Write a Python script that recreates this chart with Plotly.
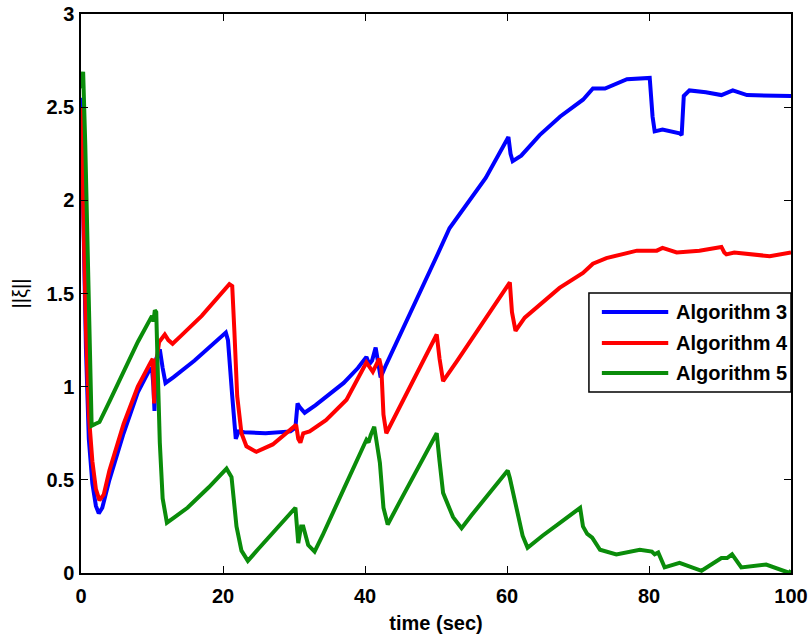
import plotly.graph_objects as go

# ---------------- data ----------------
names = ["Algorithm 3", "Algorithm 4", "Algorithm 5"]
colors = ["#0000ff", "#ff0000", "#0a8c0a"]

t_alg3 = [0, 0.3, 0.7, 1.1, 1.6, 2.1, 2.5, 3.0, 4.0, 6.0, 8.0, 9.5, 10.0, 10.2, 10.35, 10.6, 11.1, 11.5,
          11.9, 13.0, 16.0, 20.4, 20.7, 21.3, 21.8, 22.2, 23.0, 26.0, 29.5, 30.2, 30.5, 30.8, 31.5, 33.0,
          35.0, 37.0, 39.0, 40.2, 40.6, 41.0, 41.5, 41.8, 42.2, 43.0, 45.0, 47.5, 50.1, 51.9, 54.8, 57.0,
          60.2, 60.5, 60.8, 62.0, 64.6, 67.5, 70.7, 72.1, 73.8, 76.9, 80.1, 80.5, 80.8, 81.9, 84.3, 84.6,
          84.9, 85.7, 88.0, 90.2, 91.8, 93.8, 100]
y_alg3 = [2.55, 1.9, 1.2, 0.72, 0.48, 0.36, 0.32, 0.35, 0.5, 0.75, 0.97, 1.08, 1.1, 1.0, 0.87, 1.15, 1.2, 1.1,
          1.02, 1.05, 1.14, 1.29, 1.25, 0.95, 0.72, 0.76, 0.755, 0.75, 0.76, 0.78, 0.91, 0.89, 0.86, 0.9,
          0.96, 1.02, 1.1, 1.16, 1.12, 1.14, 1.21, 1.15, 1.05, 1.12, 1.28, 1.49, 1.7, 1.85, 2.0, 2.12,
          2.34, 2.25, 2.21, 2.24, 2.35, 2.45, 2.54, 2.60, 2.60, 2.65, 2.657, 2.45, 2.37, 2.38, 2.36, 2.35,
          2.56, 2.59, 2.58, 2.565, 2.59, 2.565, 2.56]

t_alg4 = [0, 0.3, 0.7, 1.1, 1.6, 2.1, 2.6, 3.2, 4.0, 6.0, 8.0, 9.8, 10.1, 10.3, 10.5, 11.0, 11.8, 12.3, 12.9,
          14.0, 17.0, 20.9, 21.3, 21.6, 22.0, 22.6, 23.3, 24.7, 27.0, 30.3, 30.6, 30.9, 31.3, 32.2, 34.5,
          37.4, 40.2, 41.1, 42.0, 42.3, 42.6, 43.0, 44.5, 47.0, 50.1, 50.5, 51.0, 53.0, 56.0, 60.4, 60.7,
          61.2, 62.5, 64.6, 67.4, 70.7, 72.1, 74.0, 78.3, 81.1, 81.9, 83.9, 87.1, 90.2, 90.6, 90.9, 92.0,
          97.0, 100]
y_alg4 = [2.5, 1.95, 1.3, 0.85, 0.6, 0.45, 0.39, 0.42, 0.55, 0.8, 1.0, 1.13, 1.15, 0.91, 1.1, 1.24, 1.28, 1.25, 1.23,
          1.27, 1.38, 1.55, 1.54, 1.3, 0.95, 0.75, 0.68, 0.65, 0.69, 0.795, 0.72, 0.70, 0.75, 0.76, 0.82,
          0.93, 1.13, 1.08, 1.15, 1.1, 0.85, 0.75, 0.86, 1.05, 1.28, 1.15, 1.03, 1.14, 1.31, 1.56, 1.40,
          1.30, 1.37, 1.44, 1.53, 1.61, 1.66, 1.69, 1.73, 1.73, 1.745, 1.72, 1.73, 1.75, 1.72, 1.71, 1.72,
          1.70, 1.72]

t_alg5 = [0, 0.3, 0.6, 0.9, 1.2, 1.5, 2.0, 2.6, 4.0, 6.0, 8.0, 10.0, 10.2, 10.4, 10.6, 10.8, 11.1, 11.5, 12.1,
          13.2, 15.0, 18.0, 20.5, 21.2, 21.9, 22.6, 23.5, 25.0, 28.0, 30.2, 30.6, 31.0, 31.3, 32.0, 32.9,
          34.0, 37.0, 40.2, 40.5, 40.8, 41.3, 42.1, 42.6, 43.2, 45.0, 47.5, 50.1, 50.5, 51.0, 52.4, 53.6,
          55.0, 57.5, 60.1, 60.4, 61.5, 62.2, 62.9, 65.0, 67.5, 70.3, 70.7, 71.3, 72.0, 73.1, 75.4, 78.7,
          80.4, 80.8, 81.3, 82.2, 84.3, 87.4, 90.2, 91.0, 91.7, 93.0, 96.5, 99.8, 100]
y_alg5 = [2.6, 2.69, 2.3, 1.8, 1.2, 0.79, 0.80, 0.81, 0.92, 1.08, 1.24, 1.38, 1.35, 1.41, 1.40, 1.1, 0.7, 0.4, 0.27,
          0.30, 0.35, 0.46, 0.56, 0.515, 0.25, 0.12, 0.065, 0.13, 0.26, 0.35, 0.16, 0.25, 0.25, 0.15, 0.115,
          0.2, 0.45, 0.715, 0.70, 0.74, 0.785, 0.59, 0.35, 0.26, 0.39, 0.565, 0.75, 0.6, 0.43, 0.30, 0.24,
          0.31, 0.43, 0.55, 0.51, 0.32, 0.2, 0.135, 0.2, 0.27, 0.35, 0.25, 0.21, 0.19, 0.125, 0.10, 0.125,
          0.115, 0.10, 0.11, 0.03, 0.055, 0.012, 0.08, 0.08, 0.10, 0.03, 0.045, 0.0, 0.015]

x_ticks = [0, 20, 40, 60, 80, 100]
y_ticks = [0, 0.5, 1, 1.5, 2, 2.5, 3]
y_tick_text = ["0", "0.5", "1", "1.5", "2", "2.5", "3"]

series = [(t_alg3, y_alg3), (t_alg4, y_alg4), (t_alg5, y_alg5)]

FONT = dict(family="Liberation Sans, Arial, sans-serif", size=20, color="black", weight="bold")

fig = go.Figure()
for (t, y), name, c in zip(series, names, colors):
    fig.add_trace(go.Scatter(x=t, y=y, mode="lines", name=name,
                             line=dict(color=c, width=4), showlegend=False))

# custom MATLAB-like legend box
lx0, lx1, ly0, ly1 = 0.7154, 1.0, 0.324, 0.501
fig.add_shape(type="rect", xref="paper", yref="paper", x0=lx0, x1=lx1, y0=ly0, y1=ly1,
              line=dict(color="black", width=1.5), fillcolor="white", layer="above")
row_y = [0.467, 0.4114, 0.3578]
for name, c, ry in zip(names, colors, row_y):
    fig.add_shape(type="line", xref="paper", yref="paper", x0=0.7336, x1=0.8271, y0=ry, y1=ry,
                  line=dict(color=c, width=4), layer="above")
    fig.add_annotation(xref="paper", yref="paper", x=0.835, y=ry, text=name, showarrow=False,
                       xanchor="left", yanchor="middle", font=FONT)

axis_common = dict(showline=True, linecolor="black", linewidth=1.5, mirror="allticks",
                   ticks="inside", ticklen=7, tickwidth=1, tickcolor="black",
                   showgrid=False, zeroline=False, tickfont=FONT, automargin=False)

fig.update_layout(
    width=812, height=634,
    margin=dict(l=81, r=21, t=14, b=61),
    paper_bgcolor="white", plot_bgcolor="white",
    xaxis=dict(range=[0, 100], tickvals=x_ticks, ticklabelstandoff=4,
               title=dict(text="time (sec)", font=FONT, standoff=10), **axis_common),
    yaxis=dict(range=[0, 3], tickvals=y_ticks, ticktext=y_tick_text, ticklabelstandoff=1,
               title=dict(text="||ξ||", font=dict(family="Liberation Sans, Arial, sans-serif",
                                                  size=20, color="black"), standoff=13),
               **axis_common),
)

fig.write_html("out.html")
